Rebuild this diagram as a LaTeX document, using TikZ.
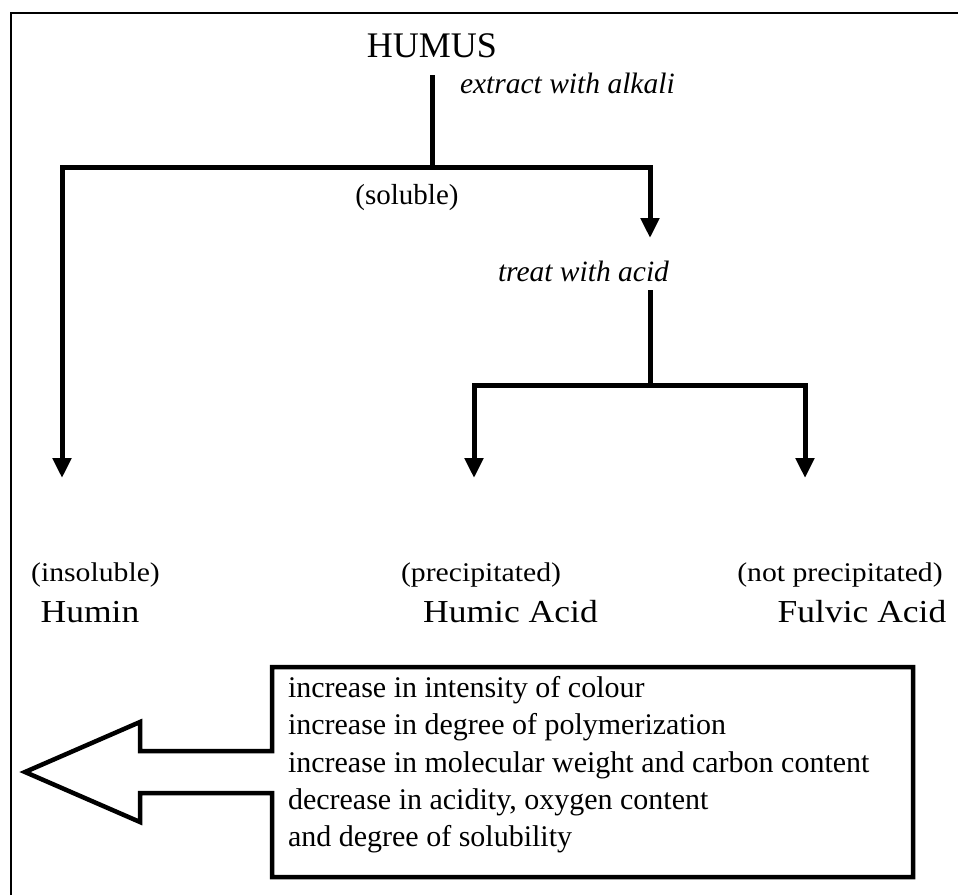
\documentclass[tikz,border=0pt]{standalone}
\usepackage{fontspec}
\setmainfont{Liberation Serif}
\newfontfamily\namefont[FakeStretch=1.11]{Liberation Serif}
\newfontfamily\parenfont[FakeStretch=1.1]{Liberation Serif}
\usetikzlibrary{arrows.meta}
\begin{document}
\begin{tikzpicture}[x=1pt,y=-1pt,
  txt/.style={inner sep=0pt, outer sep=0pt},
  bigtitle/.style={txt, font=\fontsize{36}{40}\selectfont},
  steplabel/.style={txt, font=\fontsize{29.5}{34}\selectfont\itshape},
  paren/.style={txt, font=\parenfont\fontsize{27}{32}\selectfont},
  prodname/.style={txt, font=\namefont\fontsize{32}{36}\selectfont},
  branch/.style={line width=5pt, line join=miter},
  flow/.style={branch, -{Triangle[width=18pt,length=20pt]}},
  frame/.style={line width=2pt},
  bigarrow/.style={line width=4.5pt, line join=miter}
]
\useasboundingbox (0,0) rectangle (958,895);
% outer frame
\draw[frame] (11,895) -- (11,13) -- (958,13);

% texts
\node[bigtitle, anchor=base] (humus) at (432,57) {HUMUS};
\node[steplabel, anchor=base west] (alkali) at (460,93) {extract with alkali};
\node[txt, font=\fontsize{29}{34}\selectfont, anchor=base] (soluble) at (407,204) {(soluble)};
\node[steplabel, anchor=base west] (acid) at (498,281) {treat with acid};

\node[paren, anchor=base] (insol) at (95.5,581) {(insoluble)};
\node[prodname, anchor=base] (humin) at (90,622) {Humin};
\node[paren, anchor=base] (precip) at (481,581) {(precipitated)};
\node[prodname, anchor=base] (humic) at (510.5,622) {Humic Acid};
\node[paren, anchor=base] (notprecip) at (840,581) {(not precipitated)};
\node[prodname, anchor=base] (fulvic) at (862,622) {Fulvic Acid};

% connector points
\coordinate (h0) at (432,75);
\coordinate (j1) at (432,167);
\coordinate (tHumin) at (62,478);
\coordinate (tSol) at (650,238);
\coordinate (a0) at (650,290);
\coordinate (j2) at (650,385);
\coordinate (tHumic) at (474,478);
\coordinate (tFulvic) at (805,478);

\draw[branch] (h0) -- (j1);
\draw[flow] (j1) -| (tHumin);
\draw[flow] (j1) -| (tSol);
\draw[branch] (a0) -- (j2);
\draw[flow] (j2) -| (tHumic);
\draw[flow] (j2) -| (tFulvic);

% box with big arrow
\draw[bigarrow] (272,667) -- (913,667) -- (913,877) -- (272,877) -- (272,793)
  -- (140,793) -- (140,822) -- (25,772) -- (140,722) -- (140,751) -- (272,751) -- cycle;
\node[txt, anchor=north west, align=left, font=\fontsize{30}{37.2}\selectfont] (props) at (288,676.5)
 {increase in intensity of colour\\
  increase in degree of polymerization\\
  increase in molecular weight and carbon content\\
  decrease in acidity, oxygen content\\
  and degree of solubility};
\end{tikzpicture}
\end{document}
